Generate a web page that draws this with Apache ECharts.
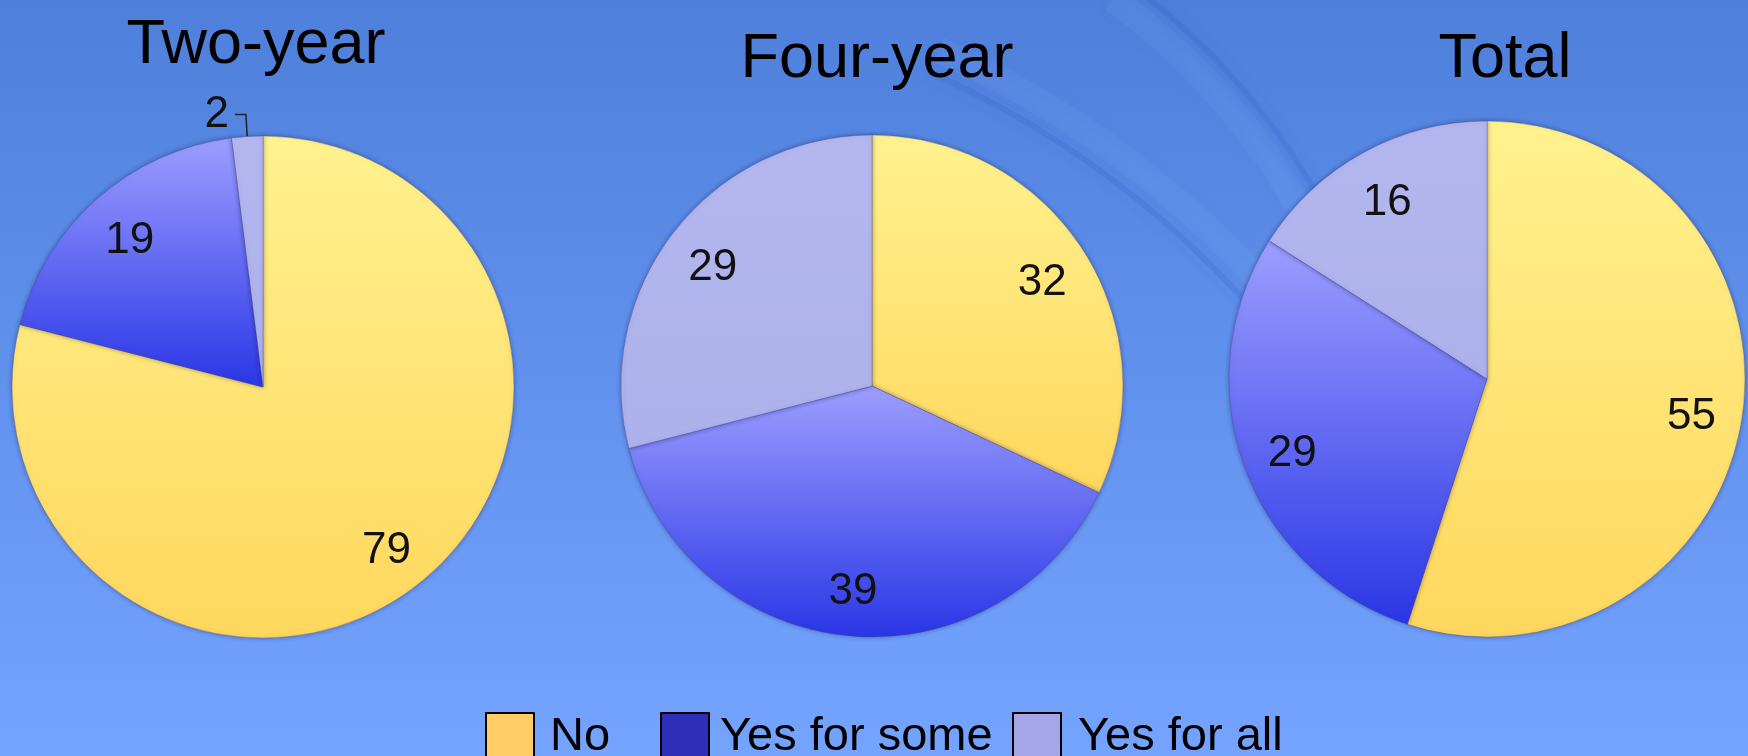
<!DOCTYPE html>
<html>
<head>
<meta charset="utf-8">
<script src="https://cdn.jsdelivr.net/npm/echarts@6/dist/echarts.min.js"></script>
<style>
  html, body { margin: 0; padding: 0; }
  #main { width: 1748px; height: 756px; }
</style>
</head>
<body>
<div id="main"></div>
<script>
// Data
var categories = ['No', 'Yes for some', 'Yes for all'];
var chartTitles = ['Two-year', 'Four-year', 'Total'];
var twoYear = [79, 19, 2];
var fourYear = [32, 39, 29];
var total = [55, 29, 16];

var FONT = "'Liberation Sans', Arial, sans-serif";

var chartDom = document.getElementById('main');
var myChart = echarts.init(chartDom, null, { renderer: 'canvas' });

// pie geometry (px)
var pies = [
  { title: chartTitles[0], values: twoYear, center: [263, 387], r: 251, titleX: 251, titleTop: 9 },
  { title: chartTitles[1], values: fourYear, center: [872, 386], r: 251, titleX: 872, titleTop: 23 },
  { title: chartTitles[2], values: total, center: [1487, 379], r: 258, titleX: 1500, titleTop: 23 }
];

// slice fills: vertical gradient per slice
var sliceFills = [
  { type: 'linear', x: 0, y: 0, x2: 0, y2: 1,
    colorStops: [{ offset: 0, color: '#fff28e' }, { offset: 1, color: '#ffd75e' }] },
  { type: 'linear', x: 0, y: 0, x2: 0, y2: 1,
    colorStops: [{ offset: 0, color: '#9c9eff' }, { offset: 1, color: '#2a36e6' }] },
  { type: 'linear', x: 0, y: 0, x2: 0, y2: 1,
    colorStops: [{ offset: 0, color: '#b4b6ee' }, { offset: 1, color: '#adb2ec' }] }
];
var legendColors = ['#ffcc66', '#2e2eb8', '#a5a5e8'];
// legend item placement (box left, gap to text)
var legendLefts = [480, 655, 1007];
var legendTextGaps = [16, 11, 17];

function buildSlices(values) {
  return values.map(function (v, i) {
    return {
      name: categories[i],
      value: v,
      itemStyle: { color: sliceFills[i] },
      label: { show: v < 5 },
      labelLine: { show: v < 5 }
    };
  });
}

function buildRingLabels(values) {
  return values.map(function (v, i) {
    return {
      name: categories[i],
      value: v,
      label: { show: v >= 5 }
    };
  });
}

var series = [];
pies.forEach(function (p) {
  series.push({
    type: 'pie',
    center: p.center,
    radius: [0, p.r],
    startAngle: 90,
    clockwise: true,
    avoidLabelOverlap: false,
    animation: false,
    z: 3,
    itemStyle: {
      borderColor: 'rgba(70,70,140,0.35)',
      borderWidth: 1,
      shadowBlur: 5,
      shadowColor: 'rgba(0,0,60,0.35)'
    },
    label: {
      show: false,
      position: 'outside',
      formatter: '{c}',
      color: '#111',
      fontFamily: FONT,
      fontSize: 44,
      distanceToLabelLine: 6
    },
    labelLine: {
      show: false,
      length: 22,
      length2: 11,
      lineStyle: { color: '#222', width: 1.5 }
    },
    emphasis: { disabled: true },
    data: buildSlices(p.values)
  });
  // transparent ring, only used to place labels near the rim
  series.push({
    type: 'pie',
    center: p.center,
    radius: [Math.round(p.r * 0.58), p.r],
    startAngle: 90,
    clockwise: true,
    silent: true,
    animation: false,
    z: 4,
    itemStyle: { color: 'rgba(0,0,0,0)' },
    label: {
      show: true,
      position: 'inside',
      color: '#111',
      fontFamily: FONT,
      fontSize: 44,
      offset: [0, 5],
      formatter: '{c}'
    },
    labelLine: { show: false },
    emphasis: { disabled: true },
    data: buildRingLabels(p.values)
  });
});

var option = {
  backgroundColor: {
    type: 'linear', x: 0, y: 0, x2: 0, y2: 1,
    colorStops: [
      { offset: 0, color: '#4e7fda' },
      { offset: 1, color: '#74a4ff' }
    ]
  },
  // faint swooshes of the slide background
  graphic: [
    {
      type: 'arc', z: 0, silent: true,
      shape: { cx: 544, cy: 936, r: 946, startAngle: -66 * Math.PI / 180, endAngle: -38 * Math.PI / 180 },
      style: { fill: null, stroke: 'rgba(45,90,200,0.16)', lineWidth: 6, shadowBlur: 16, shadowColor: 'rgba(40,80,190,0.45)' }
    },
    {
      type: 'arc', z: 0, silent: true,
      shape: { cx: 544, cy: 936, r: 970, startAngle: -66 * Math.PI / 180, endAngle: -38 * Math.PI / 180 },
      style: { fill: null, stroke: 'rgba(140,180,255,0.10)', lineWidth: 26, shadowBlur: 20, shadowColor: 'rgba(140,180,255,0.25)' }
    },
    {
      type: 'arc', z: 0, silent: true,
      shape: { cx: 725, cy: 533, r: 682, startAngle: -54 * Math.PI / 180, endAngle: -20 * Math.PI / 180 },
      style: { fill: null, stroke: 'rgba(45,90,200,0.16)', lineWidth: 6, shadowBlur: 16, shadowColor: 'rgba(40,80,190,0.45)' }
    },
    {
      type: 'arc', z: 0, silent: true,
      shape: { cx: 725, cy: 533, r: 660, startAngle: -54 * Math.PI / 180, endAngle: -20 * Math.PI / 180 },
      style: { fill: null, stroke: 'rgba(140,180,255,0.10)', lineWidth: 26, shadowBlur: 20, shadowColor: 'rgba(140,180,255,0.25)' }
    }
  ],
  title: pies.map(function (p) {
    return {
      text: p.title,
      left: p.titleX,
      top: p.titleTop,
      textAlign: 'center',
      textStyle: { fontFamily: FONT, fontSize: 63, fontWeight: 'normal', color: '#000' }
    };
  }),
  legend: categories.map(function (c, i) {
    return {
      left: legendLefts[i],
      top: 707,
      orient: 'horizontal',
      itemWidth: 48,
      itemHeight: 48,
      icon: 'rect',
      selectedMode: false,
      textStyle: { fontFamily: FONT, fontSize: 47, color: '#000', padding: [0, 0, 0, legendTextGaps[i] - 5] },
      data: [{ name: c, itemStyle: { color: legendColors[i], borderColor: '#000', borderWidth: 2 } }]
    };
  }),
  series: series
};

myChart.setOption(option);

window.addEventListener('resize', function () {
  myChart.resize();
});
</script>
</body>
</html>
